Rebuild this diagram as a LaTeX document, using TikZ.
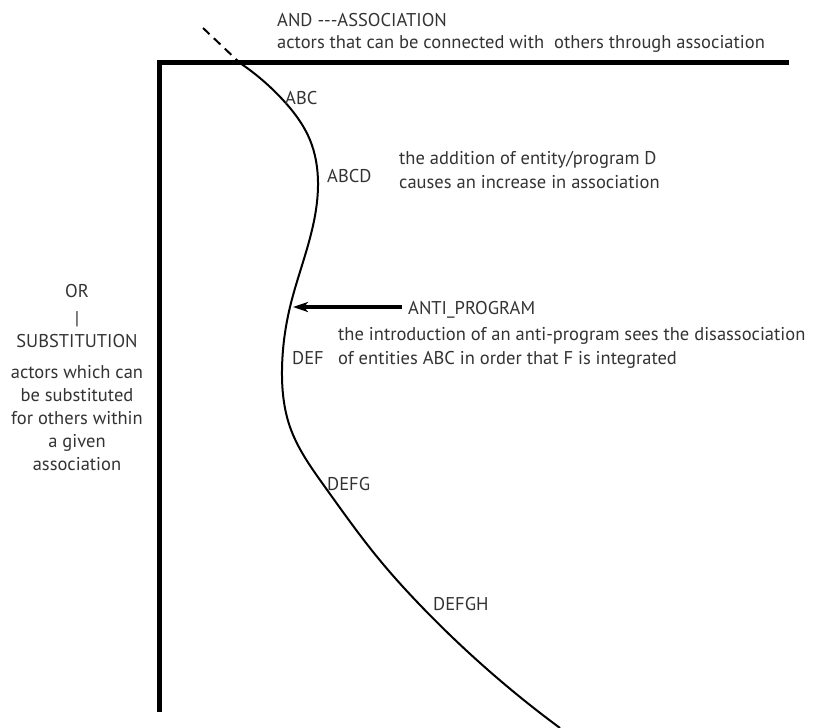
\documentclass[tikz,border=0pt]{standalone}
\usepackage{fontspec}
\setmainfont{PT Sans}
\usetikzlibrary{arrows.meta,hobby}
\definecolor{txt}{HTML}{333333}
\tikzset{
  lbl/.style={anchor=base west, inner sep=0pt, text=txt, font=\fontsize{18.5}{22}\selectfont},
  clbl/.style={anchor=base, inner sep=0pt, text=txt, font=\fontsize{18.5}{22}\selectfont},
  axisline/.style={line width=5pt, black},
  curveline/.style={line width=2pt, black},
  arrowline/.style={line width=3.8pt, black, -{Stealth[length=15pt,width=10pt,inset=4pt]}}
}
\begin{document}
\begin{tikzpicture}[x=1pt,y=-1pt]
\useasboundingbox (0,0) rectangle (814,728);
% axes
\coordinate (corner) at (159,62);
\coordinate (xend) at (789,62);
\coordinate (yend) at (159,712);
\draw[axisline] (xend) -- (corner) -- (yend);
% curve
\coordinate (cstart) at (203,28);
\coordinate (ccross) at (240,63);
\draw[curveline, dash pattern=on 9pt off 6pt] (cstart) -- (ccross);
\draw[curveline, use Hobby shortcut] (240,63) .. (283,100) .. (310,140)
 .. (318,182) .. (312,230) .. (290,307) .. (282,370)
 .. (290,427) .. (325,487) .. (378,558) .. (420,605) .. (560,728);
% texts
\node[lbl] (andt) at (277,27) {AND -{}-{}-ASSOCIATION};
\node[lbl] (andd) at (277,48) {actors that can be connected with\ \ others through association};
\node[lbl] (abc) at (285,104) {ABC};
\node[lbl] (abcd) at (327,182) {ABCD};
\node[lbl] (add1) at (399,164) {the addition of entity/program D};
\node[lbl] (add2) at (399,188) {causes an increase in association};
\node[lbl] (anti) at (408,314) {ANTI\_PROGRAM};
\coordinate (atail) at (402,307);
\coordinate (ahead) at (293,307);
\draw[arrowline] (atail) -- (ahead);
\node[lbl] (intro1) at (338,340) {the introduction of an anti-program sees the disassociation};
\node[lbl] (intro2) at (338,364) {of entities ABC in order that F is integrated};
\node[lbl] (def) at (292,364) {DEF};
\node[lbl] (defg) at (327,490) {DEFG};
\node[lbl] (defgh) at (433,610) {DEFGH};
\node[clbl] (or) at (77,297) {OR};
\node[clbl] (bar) at (77,324) {|};
\node[clbl] (subs) at (77,347) {SUBSTITUTION};
\node[clbl] (s1) at (77,378) {actors which can};
\node[clbl] (s2) at (77,401) {be substituted};
\node[clbl] (s3) at (77,424) {for others within};
\node[clbl] (s4) at (77,447) {a given};
\node[clbl] (s5) at (77,470) {association};
\end{tikzpicture}
\end{document}
